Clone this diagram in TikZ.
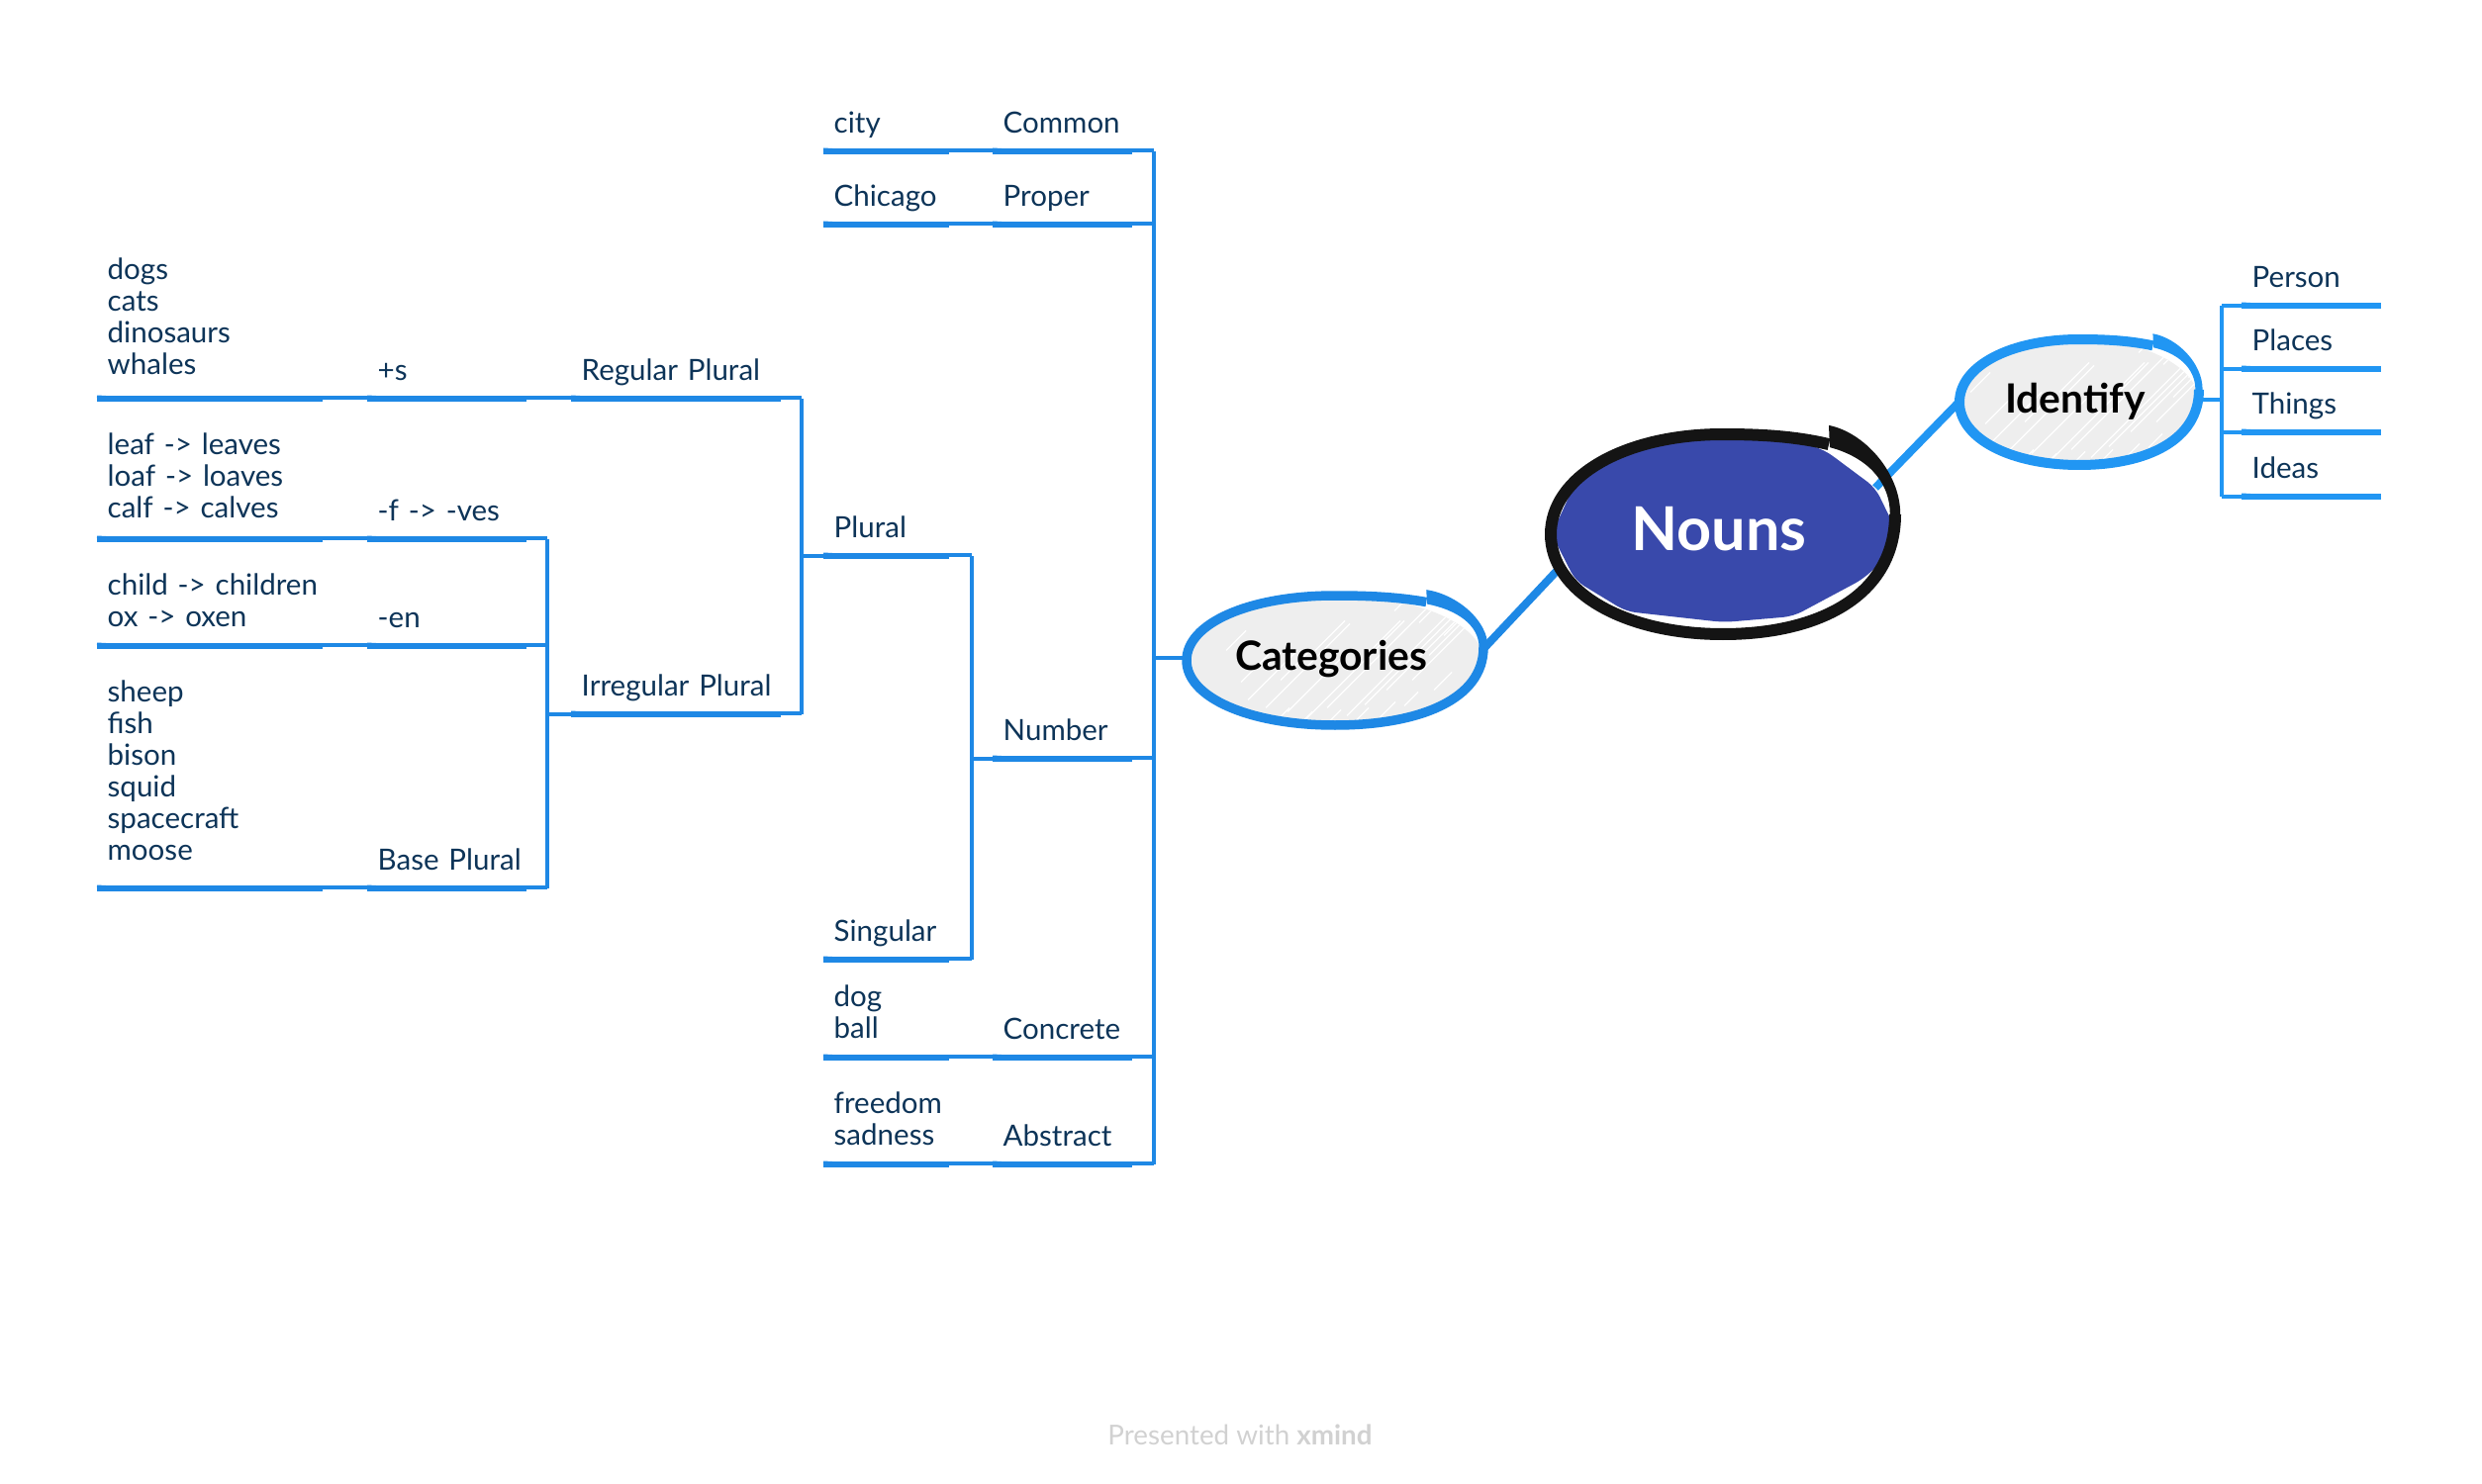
\documentclass[tikz,border=0pt]{standalone}
\usepackage{fontspec}
\setmainfont{Lato}
\usetikzlibrary{shapes.geometric}
\definecolor{linkblue}{HTML}{1E88E5}
\definecolor{ringblue}{HTML}{2196F3}
\definecolor{inkblue}{HTML}{0D3458}
\definecolor{nounblue}{HTML}{3949AB}
\definecolor{ringblack}{HTML}{141414}
\definecolor{softgray}{HTML}{EEEEEE}
\tikzset{
	topic/.style={anchor=south west, inner xsep=1mm, inner ysep=1.8mm, text depth=0pt, align=left, text width=#1, text=inkblue, font=\fontsize{8.4}{9.1}\selectfont, execute at begin node={\hyphenpenalty=10000 \exhyphenpenalty=10000 }},
	bar/.style={draw=linkblue, line width=0.65mm},
	wire/.style={draw=linkblue, line width=0.4mm},
	wisp/.style={draw=linkblue, line width=0.2mm},
	spine/.style={draw=linkblue, line width=0.48mm},
	link/.style={line width=0.8mm},
	hatch/.style={draw=white, line width=0.12mm},
	blob/.style={ellipse, fill=softgray, inner sep=0pt, path picture={
		\foreach \hx/\hy/\hl in {-95/22/28,-88/40/50,-70/48/85,-48/52/60,-30/60/100,-8/48/80,12/56/110,30/45/95,52/30/75,78/20/55,60/-20/40,-20/-10/30,95/-5/35,-55/20/30,38/-12/28,110/-25/30,-110/-10/20,-60/62/14,-35/64/12,-10/66/16,20/62/14,45/58/16,70/46/14,100/30/18,85/-38/16,60/-50/14}
			\draw[hatch] ([xshift=\hx*0.1mm,yshift=-\hy*0.1mm]path picture bounding box.center) -- ++(\hl,-\hl);
	}},
	blobtext/.style={font=\bfseries\fontsize{11.6}{13}\selectfont}
}
\def\topicline(#1)(#2){\draw[bar] (#1.south west) -- (#1.south east);
	\draw[wisp] ([yshift=0.25mm]#1.south west) -- ([xshift=4.5mm]#1.south west);
	\draw[wire] ([yshift=0.1mm]#1.south east) -- ([yshift=0.1mm]#1.south east -| #2);}
\def\sketchring[#1,#2](#3)(#4,#5){\begin{scope}[shift={(#3.center)},x=#4,y=#5]
	\draw[#1, line width=#2] (0.615,0.9) .. controls (0.42,0.98) and (0.22,1) .. (0,1)
		.. controls (-0.58,1) and (-1,0.57) .. (-1,0)
		.. controls (-1,-0.57) and (-0.58,-1) .. (0,-1)
		.. controls (0.57,-1) and (1,-0.6) .. (1,0.2);
	\fill[#1] (0.615,1.09) .. controls (0.82,1.02) and (1.03,0.62) .. (1.03,0.2) -- (0.97,0.2) .. controls (0.97,0.55) and (0.82,0.78) .. (0.62,0.87) -- cycle;
	\end{scope}}

\begin{document}
\begin{tikzpicture}[x=0.1mm,y=-0.1mm]
	\useasboundingbox (0,0) rectangle (2508,1500);
	%%%%% ROOT AND LINKS %%%%%
	\coordinate (nounsne) at (1895,493);
	\coordinate (nounssw) at (1575,575);
	\node[blob, minimum width=30mm, minimum height=13.1mm] (categories) at (1349,667.5) {};
	\node[blob, minimum width=24.2mm, minimum height=12.7mm] (identify) at (2101,406.5) {};
	\draw[link, draw=ringblue] (nounsne) -- (identify.west);
	\draw[link, draw=linkblue] (nounssw) -- (categories.4);
	\fill[nounblue, rounded corners=1mm] (1844,455) -- (1895,493) -- (1913,530) -- (1902,567) -- (1883,585) -- (1812,623) -- (1742,629) -- (1643,618) -- (1592,587) -- (1568,540) -- (1600,470) -- (1700,436) -- (1790,438) -- cycle;
	\node[ellipse, inner sep=0pt, minimum width=34.9mm, minimum height=20.2mm] (nouns) at (1741,540) {};
	\sketchring[ringblack,1.2mm](nouns)(17.4mm,10.1mm)
	\node[text=white, font=\bfseries\fontsize{17.4}{20}\selectfont] (nounstext) at (1737,535) {Nouns};
	%%%%% SKETCH RINGS %%%%%
	\sketchring[linkblue,0.95mm](categories)(15mm,6.55mm)
	\sketchring[ringblue,1mm](identify)(12.1mm,6.35mm)
	\node[blobtext] (categorieslabel) at (1345,666) {Categories};
	\node[blobtext] (identifylabel) at (2097,406) {Identify};
	%%%%% IDENTIFY BRANCH %%%%%
	\coordinate (idspine) at (2245,403);
	\node[topic=12mm] (person) at (2265,309) {Person};
	\node[topic=12mm] (places) at (2265,373) {Places};
	\node[topic=12mm] (things) at (2265,437) {Things};
	\node[topic=12mm] (ideas) at (2265,502) {Ideas};
	\foreach \n in {person,places,things,ideas} {
		\draw[bar, draw=ringblue] (\n.south west) -- (\n.south east);
		\draw[wisp, draw=ringblue] ([yshift=0.25mm]\n.south west) -- ([xshift=4.5mm]\n.south west);
		\draw[wire, draw=ringblue] (\n.south west) -- (\n.south west -| idspine);
	}
	\draw[spine, draw=ringblue] (person.south west -| idspine) -- (ideas.south west -| idspine);
	\draw[wire, draw=ringblue] (identify.1) -- (identify.1 -| idspine);
	%%%%% CATEGORIES BRANCH %%%%%
	\coordinate (catspine) at (1166,663);
	\node[topic=12mm] (common) at (1003,153) {Common};
	\node[topic=12mm] (proper) at (1003,227) {Proper};
	\node[topic=12mm] (number) at (1003,767) {Number};
	\node[topic=12mm] (concrete) at (1003,1069) {Concrete};
	\node[topic=12mm] (abstract) at (1003,1177) {Abstract};
	\foreach \n in {common,proper,number,concrete,abstract} {
		\topicline(\n)(catspine)
	}
	\draw[spine] (common.south east -| catspine) -- (abstract.south east -| catspine);
	\draw[wire] (categories.179) -- (categories.179 -| catspine);
	\node[topic=10.6mm] (city) at (832,153) {city};
	\node[topic=10.6mm] (chicago) at (832,227) {Chicago};
	\node[topic=10.6mm, text depth=9.1pt, inner ysep=1.9mm] (dogball) at (832,1069) {dog\\ball};
	\node[topic=10.6mm, text depth=9.1pt, inner ysep=1.9mm] (freedom) at (832,1177) {freedom\\sadness};
	\topicline(city)(common.south west)
	\topicline(chicago)(proper.south west)
	\topicline(dogball)(concrete.south west)
	\topicline(freedom)(abstract.south west)
	%%%%% NUMBER BRANCH %%%%%
	\coordinate (numspine) at (982,767);
	\node[topic=10.6mm] (plural) at (832,562) {Plural};
	\node[topic=10.6mm] (singular) at (832,970) {Singular};
	\topicline(plural)(numspine)
	\topicline(singular)(numspine)
	\draw[spine] (plural.south east -| numspine) -- (singular.south east -| numspine);
	\draw[wire] (numspine) -- (number.south west);
	%%%%% PLURAL BRANCH %%%%%
	\coordinate (pluralspine) at (810,562);
	\node[topic=19.1mm] (regular) at (577,403) {Regular~Plural};
	\node[topic=19.1mm] (irregular) at (577,722) {Irregular~Plural};
	\topicline(regular)(pluralspine)
	\topicline(irregular)(pluralspine)
	\draw[spine] (regular.south east -| pluralspine) -- (irregular.south east -| pluralspine);
	\draw[wire] (pluralspine) -- (plural.south west);
	\coordinate (irrspine) at (553,722);
	\node[topic=14mm] (plus) at (371,403) {+s};
	\node[topic=14mm] (ves) at (371,545) {-f~->~-ves};
	\node[topic=14mm] (en) at (371,653) {-en};
	\node[topic=14mm] (base) at (371,898) {Base~Plural};
	\topicline(plus)(regular.south west)
	\topicline(ves)(irrspine)
	\topicline(en)(irrspine)
	\topicline(base)(irrspine)
	\draw[spine] (ves.south east -| irrspine) -- (base.south east -| irrspine);
	\draw[wire] (irrspine) -- (irregular.south west);
	%%%%% EXAMPLES %%%%%
	\node[topic=20.7mm, text depth=27.3pt, inner ysep=2.4mm] (animals) at (98,403) {dogs\\cats\\dinosaurs\\whales};
	\node[topic=20.7mm, text depth=18.2pt, inner ysep=2.1mm] (fwords) at (98,545) {leaf~->~leaves\\loaf~->~loaves\\calf~->~calves};
	\node[topic=20.7mm, text depth=9.1pt, inner ysep=1.9mm] (enwords) at (98,653) {child~->~children\\ox~->~oxen};
	\node[topic=20.7mm, text depth=45.5pt, inner ysep=2.8mm] (samewords) at (98,898) {sheep\\fish\\bison\\squid\\spacecraft\\moose};
	\topicline(animals)(plus.south west)
	\topicline(fwords)(ves.south west)
	\topicline(enwords)(en.south west)
	\topicline(samewords)(base.south west)
	\node[text=black!18, font=\fontsize{7.9}{10}\selectfont] (footer) at (1253,1450) {Presented with \textbf{xmind}};
\end{tikzpicture}
\end{document}
